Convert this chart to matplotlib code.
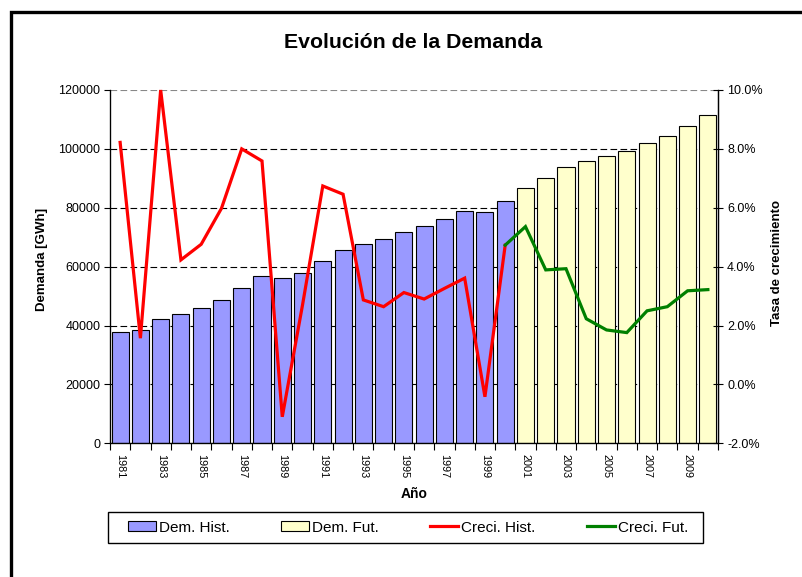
import numpy as np
import matplotlib
matplotlib.use("Agg")
import matplotlib.pyplot as plt
from matplotlib.lines import Line2D
from matplotlib.patches import Patch, Rectangle
from matplotlib.ticker import FuncFormatter, FixedLocator

plt.rcParams['font.family'] = ['Liberation Sans', 'DejaVu Sans']

# Demand (GWh), historical and forecast
years_hist = list(range(1981, 2001))
dem_hist = [37700, 38400, 42200, 44000, 46100, 48800, 52700, 56700, 56200, 57700,
            61800, 65800, 67600, 69400, 71700, 73700, 76100, 78800, 78500, 82200]
years_fut = list(range(2001, 2011))
dem_fut = [86700, 90100, 93700, 95800, 97600, 99400, 101900, 104500, 107800, 111400]

# Annual growth rate (%)
creci_hist_years = list(range(1981, 2001))
creci_hist = [8.22, 1.57, 10.0, 4.23, 4.76, 5.98, 8.0, 7.59, -1.10, 2.7,
              6.74, 6.46, 2.87, 2.64, 3.12, 2.90, 3.26, 3.61, -0.42, 4.73]
creci_fut_years = list(range(2000, 2011))
creci_fut = [4.73, 5.36, 3.89, 3.93, 2.23, 1.85, 1.76, 2.50, 2.64, 3.18, 3.22]

all_years = years_hist + years_fut
year_labels = [str(y) for y in all_years]

W, H = 803, 577
fig = plt.figure(figsize=(W / 100, H / 100), dpi=100)
ax = fig.add_axes([110 / W, 1 - 443.3 / H, 608 / W, 353.3 / H])

pos = {y: i for i, y in enumerate(all_years)}
xh = [pos[y] for y in years_hist]
xf = [pos[y] for y in years_fut]

ax.bar(xh, dem_hist, width=0.84, color='#9999FF', edgecolor='black', linewidth=0.8, zorder=2)
ax.bar(xf, dem_fut, width=0.84, color='#FFFFCC', edgecolor='black', linewidth=0.8, zorder=2)

ax.set_xlim(-0.5, len(all_years) - 0.5)
ax.set_ylim(0, 120000)
ax.set_yticks(np.arange(0, 120001, 20000))
ax.tick_params(axis='y', direction='out', length=4, width=0.8, labelsize=9, pad=3)

# category boundaries as tick marks, odd years as labels
ax.xaxis.set_major_locator(FixedLocator(np.arange(-0.5, len(all_years), 1.0)))
ax.xaxis.set_major_formatter(FuncFormatter(lambda v, p: ''))
odd_idx = [i for i, y in enumerate(all_years) if y % 2 == 1]
ax.xaxis.set_minor_locator(FixedLocator(odd_idx))
ax.xaxis.set_minor_formatter(FuncFormatter(lambda v, p: year_labels[int(round(v))]))
ax.tick_params(axis='x', which='major', direction='out', length=5, width=0.8)
ax.tick_params(axis='x', which='minor', length=0, labelsize=7.8, labelrotation=270, pad=8)

ax.set_axisbelow(True)
ax.yaxis.grid(True, color='black', linestyle=(0, (6, 3)), linewidth=0.8)
gl = ax.yaxis.get_gridlines()
gl[-1].set_color('#888888')
ax.spines['top'].set_visible(False)
for s in ('left', 'bottom', 'right'):
    ax.spines[s].set_linewidth(0.9)

ax2 = ax.twinx()
ax2.set_ylim(-2.0, 10.0)
ax2.set_yticks(np.arange(-2.0, 10.01, 2.0))
ax2.yaxis.set_major_formatter(FuncFormatter(lambda v, p: f"{v:.1f}%"))
ax2.tick_params(axis='y', direction='inout', length=7, width=0.8, labelsize=9, pad=3)
ax2.spines['top'].set_visible(False)
ax2.spines['right'].set_linewidth(0.9)

ax2.plot([pos[y] for y in creci_hist_years], creci_hist, color='#FF0000', linewidth=2.3,
         solid_joinstyle='miter', clip_on=False, zorder=3)
ax2.plot([pos[y] for y in creci_fut_years], creci_fut, color='#008000', linewidth=2.3,
         solid_joinstyle='miter', clip_on=False, zorder=3)

fig.text(413 / W, 1 - 42 / H, 'Evolución de la Demanda', ha='center', va='center',
         fontsize=15.3, fontweight='bold')
fig.text(42 / W, 1 - 259 / H, 'Demanda [GWh]', ha='center', va='center', rotation=90,
         fontsize=9.5, fontweight='bold')
fig.text(777 / W, 1 - 263 / H, 'Tasa de crecimiento', ha='center', va='center', rotation=90,
         fontsize=9.5, fontweight='bold')
fig.text(414 / W, 1 - 494 / H, 'Año', ha='center', va='center', fontsize=10, fontweight='bold')

# legend box
fig.add_artist(Rectangle((108 / W, 1 - 543 / H), (703 - 108) / W, 31 / H,
                         transform=fig.transFigure, fill=False, edgecolor='black',
                         linewidth=1.0))
handles = [
    Patch(facecolor='#9999FF', edgecolor='black', linewidth=0.8),
    Patch(facecolor='#FFFFCC', edgecolor='black', linewidth=0.8),
    Line2D([], [], color='#FF0000', linewidth=2.3),
    Line2D([], [], color='#008000', linewidth=2.3),
]
labels = ['Dem. Hist.', 'Dem. Fut.', 'Creci. Hist.', 'Creci. Fut.']
leg = fig.legend(handles, labels, loc='center', ncol=4, mode='expand',
                 bbox_to_anchor=(128 / W, 1 - 543 / H, (688 - 128) / W, 31 / H),
                 fontsize=11, frameon=False, handlelength=1.8,
                 handleheight=0.55, handletextpad=0.2, borderaxespad=0, borderpad=0)

# outer chart frame (left and top edges)
fig.add_artist(Line2D([10.7 / W, 10.7 / W, 1.0], [0.0, 1 - 11.7 / H, 1 - 11.7 / H],
                      color='black', linewidth=2.4, transform=fig.transFigure,
                      solid_joinstyle='miter'))

fig.savefig('out.png', dpi=100)
